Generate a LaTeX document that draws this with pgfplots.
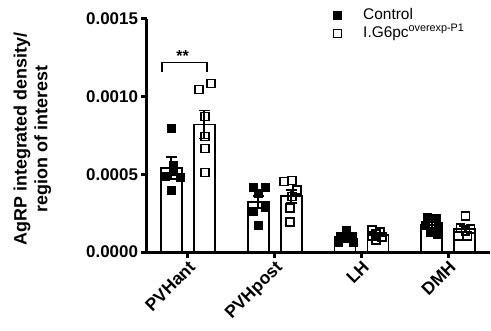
\documentclass[border=0pt]{standalone}
\usepackage{fontspec}
\setmainfont{Liberation Sans}
\usepackage{pgfplots}
\pgfplotsset{compat=1.18}
\begin{document}
\begin{tikzpicture}
\begin{axis}[
  at={(0,0)}, anchor=south west,
  scale only axis, width=343bp, height=233bp,
  xmin=-0.47, xmax=3.48, ymin=0, ymax=0.0015,
  axis lines=left, axis line style={-, line width=3bp},
  tick align=outside, major tick length=5.5bp,
  tick style={line width=3bp, black},
  ytick={0,0.0005,0.001,0.0015},
  scaled y ticks=false,
  yticklabel style={font=\fontsize{17}{18}\selectfont\bfseries,
    /pgf/number format/.cd, fixed, fixed zerofill, precision=4, assume math mode=true},
  xtick={0,1,2,3},
  xticklabels={PVHant,PVHpost,LH,DMH},
  xticklabel style={rotate=45, anchor=north east, font=\fontsize{17.5}{18}\selectfont\bfseries, inner sep=1.5bp},
  ylabel={AgRP integrated density/\\region of interest},
  ylabel style={at={(axis description cs:-0.334,0.485)}, anchor=center, rotate=0, align=center,
    font=\fontsize{18}{21}\selectfont\bfseries},
  clip=false,
  legend style={draw=none, fill=none, inner sep=0pt, at={(axis description cs:0.5423,1.0515)}, anchor=north west,
    font=\fontsize{15.5}{17}\selectfont, row sep=2bp,
    nodes={inner sep=1bp, text height=11bp, text depth=3bp},
    /tikz/every odd column/.append style={column sep=21bp}},
  legend cell align=left,
  legend image code/.code={\draw[mark repeat=1,#1] plot coordinates {(0bp,0bp)};},
]
% bars
\addplot[ybar, bar width=21bp, bar shift=0pt, fill=white, draw=black, line width=1.8pt, forget plot]
  coordinates {(-0.19,0.000541) (0.81,0.000323) (1.81,0.000095) (2.81,0.000172)};
\addplot[ybar, bar width=21bp, bar shift=0pt, fill=white, draw=black, line width=1.8pt, forget plot]
  coordinates {(0.19,0.000821) (1.19,0.000358) (2.19,0.000111) (3.19,0.000147)};
% points control
\addplot[only marks, mark=square*, mark size=4bp, mark options={fill=black, draw=black, line width=0.5pt}]
  coordinates {
  (-0.185,0.000795) (-0.17,0.00056) (-0.265,0.00049) (-0.09,0.00048) (-0.185,0.00040) (-0.17,0.00052)
  (0.75,0.00042) (0.888,0.00042) (0.807,0.00038) (0.888,0.00029) (0.75,0.00026) (0.807,0.00017)
  (1.822,0.000142) (1.753,0.000103) (1.892,0.000103) (1.73,0.000065) (1.903,0.000065) (1.822,0.00009)
  (2.757,0.000226) (2.86,0.00022) (2.734,0.000175) (2.883,0.000168) (2.791,0.000129) (2.872,0.000116)
  };
\addlegendentry{Control}
% points treatment
\addplot[only marks, mark=square, mark size=4bp, mark options={draw=black, line width=1.4pt}]
  coordinates {
  (0.127,0.001047) (0.265,0.001086) (0.196,0.000873) (0.196,0.000743) (0.196,0.000666) (0.196,0.00051)
  (1.107,0.000452) (1.2,0.000459) (1.257,0.0004) (1.2,0.000356) (1.176,0.000284) (1.176,0.000194)
  (2.122,0.000142) (2.215,0.000129) (2.168,0.000116) (2.122,0.000103) (2.238,0.000097) (2.168,0.000078)
  (3.195,0.000233) (3.137,0.000155) (3.253,0.000149) (3.195,0.000136) (3.114,0.000103) (3.22,0.000103)
  };
\addlegendentry{I.G6pc\textsuperscript{overexp-P1}}
% error bars
\addplot[draw=none, mark=none, forget plot, error bars/.cd, y dir=both, y explicit,
  error bar style={line width=1.8pt, black}, error mark options={rotate=90, mark size=5.5bp, line width=1.8pt, black}]
  coordinates {(-0.19,0.000541) +- (0,0.00007) (0.81,0.000323) +- (0,0.00004) (1.81,0.000095) +- (0,0.000012) (2.81,0.000172) +- (0,0.00002)
  (0.19,0.000821) +- (0,0.00009) (1.19,0.000358) +- (0,0.00004) (2.19,0.000111) +- (0,0.00001) (3.19,0.000147) +- (0,0.00002)};
% significance
\draw[line width=1.5pt] (axis cs:-0.30,0.00116) -- (axis cs:-0.30,0.00122) -- (axis cs:0.22,0.00122) -- (axis cs:0.22,0.00116);
\node[font=\fontsize{16}{17}\selectfont\bfseries, anchor=south, inner sep=1bp] at (axis cs:-0.06,0.00122) {**};
\end{axis}
\pgfresetboundingbox
\path[use as bounding box] (-147bp,-79bp) rectangle (344bp,252bp);
\end{tikzpicture}
\end{document}
